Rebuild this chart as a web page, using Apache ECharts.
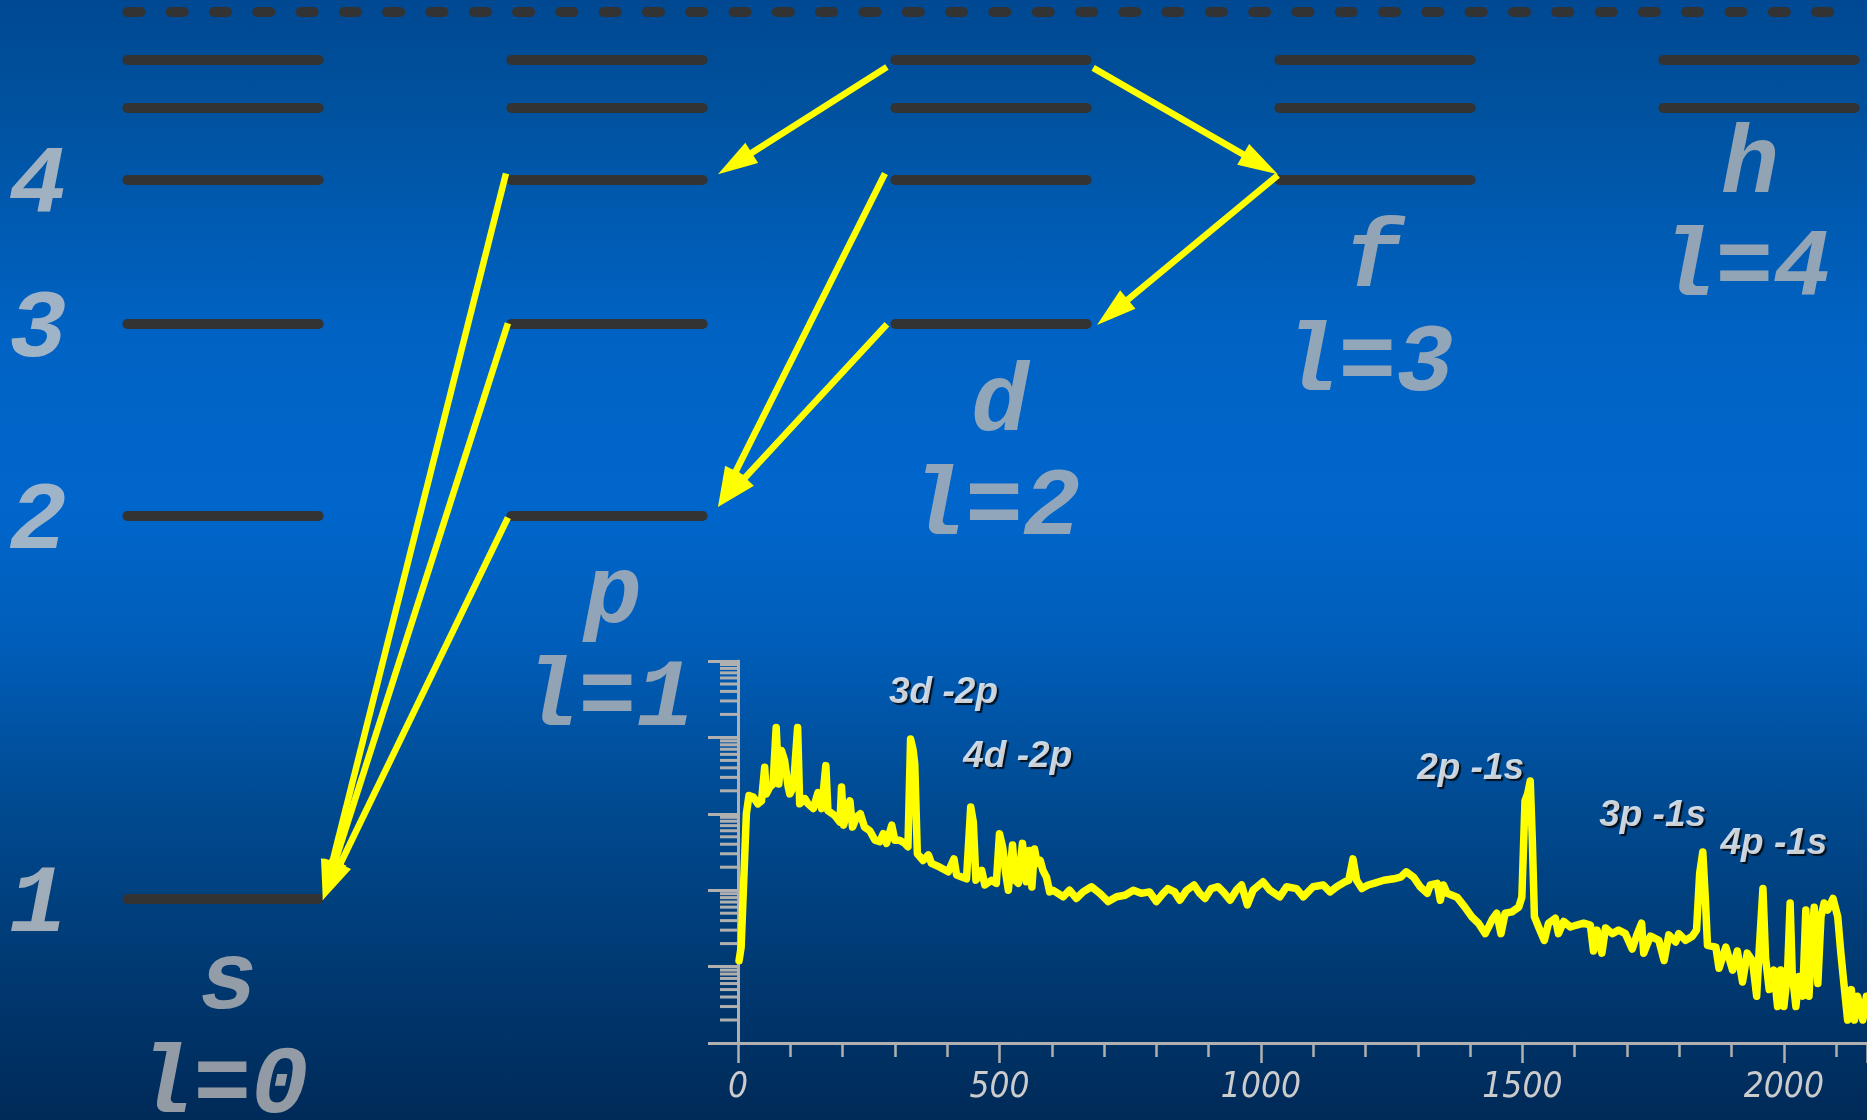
<!DOCTYPE html>
<html>
<head>
<meta charset="utf-8">
<script src="https://cdn.jsdelivr.net/npm/echarts@6/dist/echarts.min.js"></script>
<style>
html,body{margin:0;padding:0;width:1867px;height:1120px;overflow:hidden;}
#c{width:1867px;height:1120px;
background:linear-gradient(to bottom,#004892 0%,#00529f 10%,#0063c4 30%,#0066cc 45%,#005eba 57%,#004b93 71%,#003b75 85%,#002a58 100%);}
</style>
</head>
<body>
<div id="c"></div>
<script>
// ---------- Energy-level diagram data ----------
const orbitalLetters = ['s', 'p', 'd', 'f', 'h'];
const orbitalL = ['l=0', 'l=1', 'l=2', 'l=3', 'l=4'];
const principalN = [1, 2, 3, 4, 5, 6];
// schematic level energies (arbitrary units, n=1 at 0, ionization at 100)
const levelEnergy = [0, 43.2, 64.9, 81.1, 89.2, 94.6];
const ionizationEnergy = 100;
const levelNumberLabels = ['1', '2', '3', '4'];
// transitions: from (column, energy) -> to (column, energy)
const transFromX = [1.729, 2.266, 2.747, 1.724, 1.729, 0.737, 0.742, 0.742];
const transFromE = [93.8, 93.7, 81.6, 81.8, 64.8, 81.8, 64.9, 43.0];
const transToX   = [1.289, 2.747, 2.276, 1.289, 1.289, 0.260, 0.260, 0.260];
const transToE   = [81.7, 81.7, 64.7, 44.2, 44.2, -0.1, -0.1, -0.1];
// label anchors (diagram data units)
const letterAnchorX = [0.013, 1.016, 2.023, 2.995, 3.977];
const letterAnchorE = [-9.6, 34.0, 55.6, 71.8, 82.4];
const lAnchorX = [-0.002, 1.001, 2.008, 2.980, 3.962];
const lAnchorE = [-21.3, 22.4, 43.9, 60.1, 70.8];
const levelNumAnchorX = -0.482;

// ---------- Spectrum data ----------
const spectrumChannel = [2,6,11,16,21,29,38,45,51,54,61,67,73,78,83,89,96,99,106,114,118,128,134,144,153,160,168,172,185,195,198,202,214,219,227,234,242,252,262,271,278,284,294,300,309,319,325,330,335,338,343,354,364,370,386,402,413,418,437,445,450,455,466,472,485,494,500,506,512,517,525,530,536,544,551,557,562,567,572,578,583,590,596,602,622,634,647,660,676,692,708,724,740,756,771,787,800,813,822,835,845,858,872,883,893,905,918,928,941,953,963,974,985,1004,1017,1036,1049,1068,1081,1100,1119,1132,1145,1161,1168,1176,1183,1193,1205,1216,1235,1254,1267,1278,1292,1305,1318,1324,1337,1343,1349,1356,1375,1390,1403,1416,1429,1442,1451,1459,1467,1480,1493,1499,1505,1510,1515,1519,1523,1531,1542,1550,1563,1569,1579,1592,1604,1617,1630,1636,1643,1652,1659,1672,1684,1697,1710,1719,1728,1732,1745,1761,1771,1780,1793,1799,1812,1825,1833,1839,1845,1850,1854,1870,1876,1889,1902,1911,1921,1930,1940,1948,1953,1960,1965,1972,1981,1988,1994,2000,2007,2012,2016,2023,2029,2036,2042,2048,2054,2058,2065,2071,2077,2084,2094,2103,2109,2116,2122,2129,2135,2141,2151,2158];
const spectrumCounts = [12,18,135,1000,1740,1660,1350,1480,4070,1820,2240,2450,13500,2450,6760,5000,2240,1820,2240,13500,1350,1580,1350,1170,1900,1170,4270,1100,950,780,2240,710,1480,670,910,1000,670,600,450,430,550,410,710,450,450,410,370,9500,6760,4470,300,245,290,224,200,174,257,158,141,1230,780,135,182,117,135,123,550,370,166,100,390,135,123,410,129,331,110,347,224,245,182,148,95,100,82,100,78,95,111,91,71,82,86,100,91,95,71,91,105,95,74,100,117,91,78,105,111,95,74,100,117,64,100,129,100,82,111,105,82,111,117,95,111,129,135,257,135,105,117,123,135,141,148,174,148,110,91,117,123,74,117,91,81,60,45,37,27,41,50,27,50,52,60,81,1480,1820,2690,450,45,33,22,37,43,27,39,33,35,37,35,16,30,15,32,27,30,27,17,26,37,15,25,22,12,26,21,27,22,25,30,166,316,74,19,18,9.5,18,9,16,6.3,15,12,4.1,17,105,13,5,9,3,9,3,8.2,68,8.2,3,7.4,4.1,55,4.1,25,60,6,45,68,55,78,45,15,5,2,5,2,4.1,2,4.1];
const xTickLabels = ['0', '500', '1000', '1500', '2000'];
const yMinorTickValues = [2,3,4,5,6,7,8,9,20,30,40,50,60,70,80,90,200,300,400,500,600,700,800,900,2000,3000,4000,5000,6000,7000,8000,9000,20000,30000,40000,50000,60000,70000,80000,90000];
const peakNames = ['3d -2p', '4d -2p', '2p -1s', '3p -1s', '4p -1s'];
const peakLabelChannel = [393, 535, 1401, 1749, 1981];
const peakLabelCounts = [38500, 5650, 3930, 955, 400];

// ---------- build ----------
const HALF = 0.249;
const levelSegments = [];
orbitalLetters.forEach((_, col) => {
  principalN.forEach((n, i) => {
    if (n > col) levelSegments.push({coords: [[col - HALF, levelEnergy[i]], [col + HALF, levelEnergy[i]]]});
  });
});
const arrowData = transFromX.map((fx, i) => [fx, transFromE[i], transToX[i], transToE[i]]);
const levelNumData = levelNumberLabels.map((t, i) => ({name: t, value: [levelNumAnchorX, levelEnergy[i] - 0.9]}));
const letterData = orbitalLetters.map((t, i) => ({name: t, value: [letterAnchorX[i], letterAnchorE[i]]}));
const lData = orbitalL.map((t, i) => ({name: t, value: [lAnchorX[i], lAnchorE[i]]}));
const spectrum = spectrumChannel.map((x, i) => [x, spectrumCounts[i]]);
const peakData = peakNames.map((t, i) => ({name: t, value: [peakLabelChannel[i], peakLabelCounts[i]]}));

const GRAY_TXT = {fontFamily: 'Liberation Mono', fontWeight: 'bold', fontStyle: 'italic', fontSize: 96};
const AX = '#b0b0b0';
const YEL = '#ffff00';

const chart = echarts.init(document.getElementById('c'), null, {renderer: 'canvas', width: 1867, height: 1120});
chart.setOption({
  animation: false,
  backgroundColor: 'transparent',
  grid: [
    {left: 0, top: 0, right: 0, bottom: 0, containLabel: false},
    {left: 738, top: 661, right: 0, bottom: 77, containLabel: false}
  ],
  xAxis: [
    {type: 'value', gridIndex: 0, min: -0.5807, max: 4.2813, show: false},
    {type: 'value', gridIndex: 1, min: 0, max: 2159, interval: 500,
      axisLine: {show: true, lineStyle: {color: AX, width: 3}},
      axisTick: {show: true, length: 20, lineStyle: {color: AX, width: 2.5}},
      minorTick: {show: true, splitNumber: 5, length: 14, lineStyle: {color: AX, width: 2.5}},
      splitLine: {show: false}, minorSplitLine: {show: false},
      axisLabel: {show: true, color: '#cccccc', fontStyle: 'italic',
        fontFamily: "'DejaVu Sans Condensed', 'Liberation Sans Narrow', 'DejaVu Sans'", fontSize: 35, margin: 27,
        showMaxLabel: false, showMinLabel: true,
        formatter: v => { const k = Math.round(v / 500); return (Math.abs(v - k * 500) < 1e-6 && k < xTickLabels.length) ? xTickLabels[k] : ''; }}
    }
  ],
  yAxis: [
    {type: 'value', gridIndex: 0, min: -24.915, max: 101.353, show: false},
    {type: 'log', gridIndex: 1, min: 1, max: 100000, logBase: 10,
      axisLine: {show: true, lineStyle: {color: AX, width: 3}},
      axisTick: {show: true, length: 30, lineStyle: {color: AX, width: 3}},
      axisLabel: {show: false}, splitLine: {show: false}
    }
  ],
  series: [
    { // ionization limit (dashed)
      type: 'lines', coordinateSystem: 'cartesian2d', xAxisIndex: 0, yAxisIndex: 0, silent: true,
      lineStyle: {color: '#333333', width: 10, type: [13, 30.3], cap: 'round', opacity: 1},
      data: [{coords: [[-HALF, ionizationEnergy], [4.21, ionizationEnergy]]}]
    },
    { // levels
      type: 'lines', coordinateSystem: 'cartesian2d', xAxisIndex: 0, yAxisIndex: 0, silent: true,
      lineStyle: {color: '#333333', width: 10, cap: 'round', opacity: 1},
      data: levelSegments
    },
    { // transitions (arrows)
      type: 'custom', xAxisIndex: 0, yAxisIndex: 0, silent: true, clip: false, z: 3,
      encode: {x: [0, 2], y: [1, 3]},
      data: arrowData,
      renderItem: (params, api) => {
        const p0 = api.coord([api.value(0), api.value(1)]);
        const p1 = api.coord([api.value(2), api.value(3)]);
        const dx = p1[0] - p0[0], dy = p1[1] - p0[1];
        const len = Math.sqrt(dx * dx + dy * dy);
        const ux = dx / len, uy = dy / len;
        const HL = 40, HW = 12;
        const bx = p1[0] - ux * HL, by = p1[1] - uy * HL;
        return {type: 'group', children: [
          {type: 'line', shape: {x1: p0[0], y1: p0[1], x2: bx + ux * 4, y2: by + uy * 4},
            style: {stroke: YEL, lineWidth: 6.5, lineCap: 'butt'}},
          {type: 'polygon', shape: {points: [[p1[0], p1[1]], [bx - uy * HW, by + ux * HW], [bx + uy * HW, by - ux * HW]]},
            style: {fill: YEL}}
        ]};
      }
    },
    { // n labels
      type: 'scatter', xAxisIndex: 0, yAxisIndex: 0, symbolSize: 1, itemStyle: {color: 'rgba(0,0,0,0)'}, silent: true,
      label: Object.assign({show: true, position: 'inside', color: '#c8c8c8', formatter: p => p.name}, GRAY_TXT),
      data: levelNumData
    },
    { // orbital letters
      type: 'scatter', xAxisIndex: 0, yAxisIndex: 0, symbolSize: 1, itemStyle: {color: 'rgba(0,0,0,0)'}, silent: true,
      label: Object.assign({show: true, position: 'inside', color: '#b6b6b6', formatter: p => p.name}, GRAY_TXT),
      data: letterData
    },
    { // l labels
      type: 'scatter', xAxisIndex: 0, yAxisIndex: 0, symbolSize: 1, itemStyle: {color: 'rgba(0,0,0,0)'}, silent: true,
      label: Object.assign({show: true, position: 'inside', color: '#b6b6b6', formatter: p => p.name}, GRAY_TXT),
      data: lData
    },
    { // y minor ticks on log axis
      type: 'custom', xAxisIndex: 1, yAxisIndex: 1, silent: true, clip: false,
      data: yMinorTickValues.map(v => [0, v]),
      encode: {x: 0, y: 1},
      renderItem: (params, api) => {
        const p = api.coord([0, api.value(1)]);
        return {type: 'line', shape: {x1: p[0] - 18, y1: p[1], x2: p[0], y2: p[1]}, style: {stroke: AX, lineWidth: 3}};
      }
    },
    { // spectrum
      type: 'line', xAxisIndex: 1, yAxisIndex: 1, showSymbol: false, symbol: 'none', silent: true,
      lineStyle: {color: YEL, width: 7.5, join: 'round', cap: 'round'},
      data: spectrum, z: 4
    },
    { // peak labels
      type: 'scatter', xAxisIndex: 1, yAxisIndex: 1, symbolSize: 1, itemStyle: {color: 'rgba(0,0,0,0)'}, silent: true,
      label: {show: true, position: 'inside', color: '#ffffff', fontFamily: 'Liberation Sans', fontWeight: 'bold', fontStyle: 'italic',
        fontSize: 37, textShadowColor: '#000000', textShadowOffsetX: 2, textShadowOffsetY: 2, textShadowBlur: 1,
        formatter: p => p.name},
      data: peakData, z: 5
    }
  ]
});
</script>
</body>
</html>
